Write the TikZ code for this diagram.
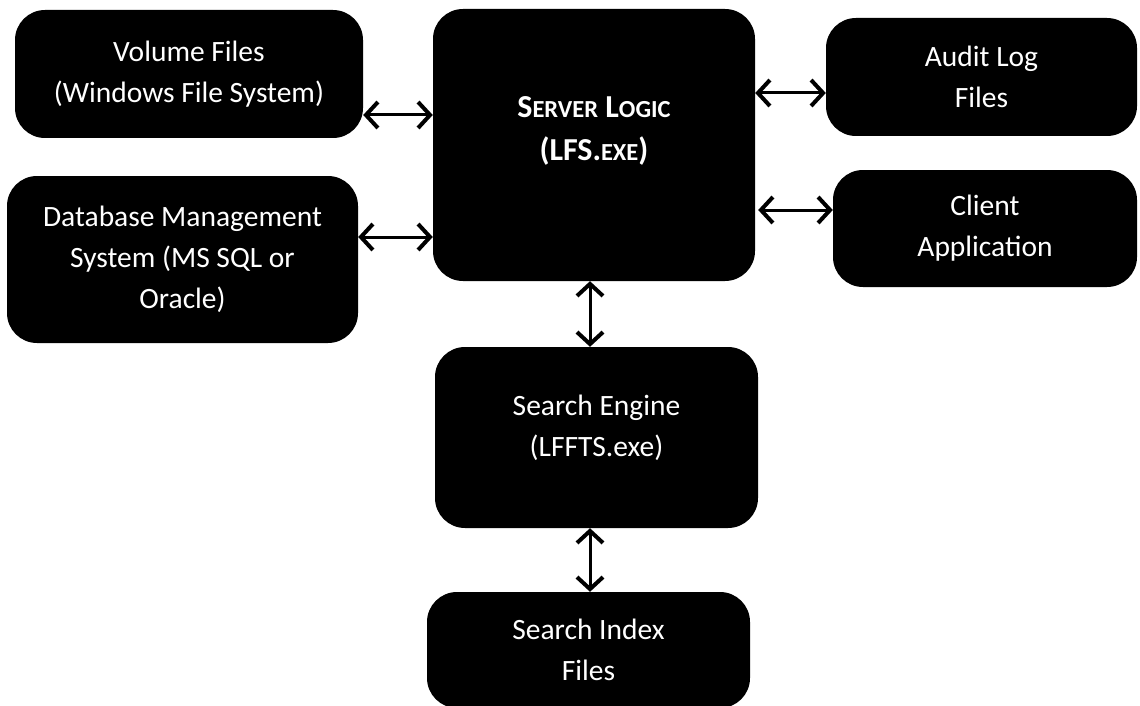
\documentclass[tikz,border=0pt]{standalone}
\usepackage{fontspec}
\setmainfont{Carlito}
\usetikzlibrary{arrows.meta}

\begin{document}
\begin{tikzpicture}[x=1pt, y=-1pt,
  box/.style={rectangle, rounded corners=30pt, fill=black, text=white,
    align=center, inner sep=0pt, font=\fontsize{29.5}{41}\selectfont},
  tip/.style={Straight Barb[length=12pt,width=26pt,line width=4pt]},
  conn/.style={line width=3pt, {Straight Barb[length=12pt,width=26pt,line width=4pt]}-{Straight Barb[length=12pt,width=26pt,line width=4pt]}}
]
\useasboundingbox (0,0) rectangle (1140,706);
\begin{scope}
\clip (0,0) rectangle (1140,706);

% storage and services around the server
\node[box, minimum width=348pt, minimum height=128pt] (vol) at (189,74)
  {Volume Files\\(Windows File System)};
\node[box, minimum width=351pt, minimum height=167pt] (db) at (182.5,259.5)
  {Database Management\\System (MS SQL or\\Oracle)};
\node[box, minimum width=322pt, minimum height=272pt,
  label={[text=white, font=\fontsize{32}{43}\selectfont\bfseries, align=center, yshift=14pt]center:{{S}{\fontsize{24.5}{43}\selectfont ERVER} {L}{\fontsize{24.5}{43}\selectfont OGIC}\\({L}{F}{S}.{\fontsize{24.5}{43}\selectfont EXE})}}]
  (srv) at (594,145) {};
\node[box, minimum width=311pt, minimum height=118pt] (audit) at (981.5,77)
  {Audit Log\\Files};
\node[box, minimum width=304pt, minimum height=117pt] (client) at (985,228.5)
  {Client\\Application};
\node[box, minimum width=323pt, minimum height=181pt, text depth=24pt] (se) at (596.5,437.5)
  {Search Engine\\(LFFTS.exe)};
\node[box, minimum width=323pt, minimum height=116pt] (idx) at (588.5,650)
  {Search Index\\Files};

% connectors
\draw[conn] (vol.east |- 0,115) -- (srv.west |- 0,115);
\draw[conn] (db.east |- 0,237) -- (srv.west |- 0,237);
\draw[conn] (srv.east |- 0,93) -- (audit.west |- 0,93);
\draw[conn] ([xshift=3pt]srv.east |- 0,210) -- (client.west |- 0,210);
\draw[conn] (590,0 |- srv.south) -- (590,0 |- se.north);
\draw[conn] (590,0 |- se.south) -- (590,0 |- idx.north);
\end{scope}
\end{tikzpicture}
\end{document}
